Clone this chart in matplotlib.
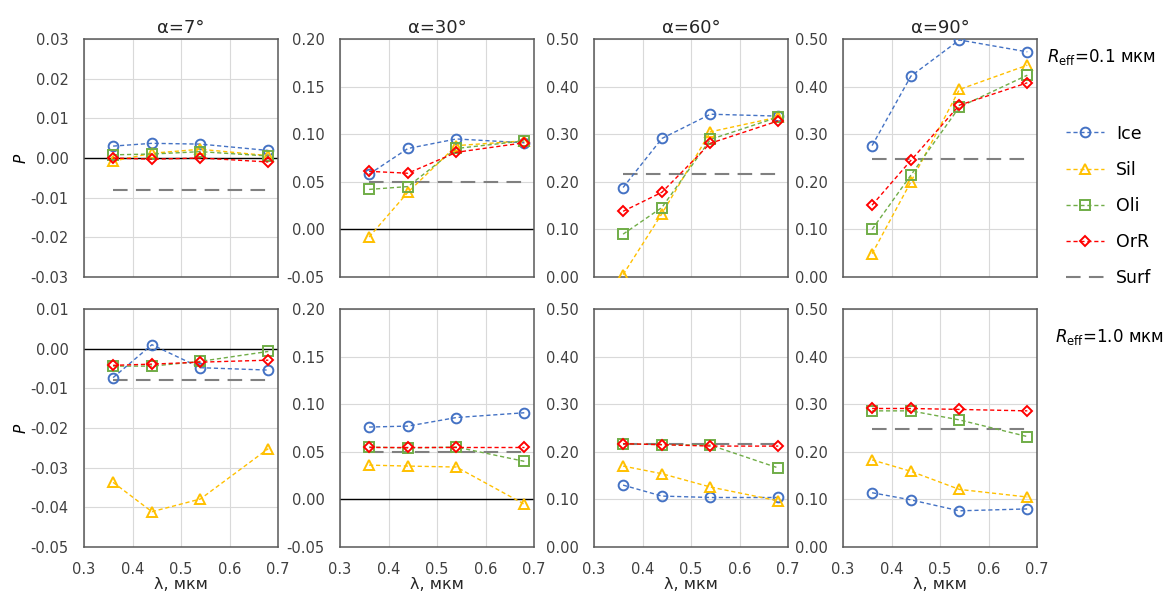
import numpy as np
import matplotlib
matplotlib.use("Agg")
import matplotlib.pyplot as plt

# wavelengths, um
lam = [0.36, 0.44, 0.54, 0.68]
angles = ["7", "30", "60", "90"]
series = ["Ice", "Sil", "Oli", "OrR"]

# R_eff = 0.1 um, one list per angle: Ice, Sil, Oli, OrR
r01_a7 = [[0.0030, 0.0037, 0.0035, 0.0019],
          [-0.0008, 0.0012, 0.0022, 0.0006],
          [0.0008, 0.0010, 0.0016, 0.0005],
          [0.0000, -0.0003, 0.0000, -0.0010]]
r01_a30 = [[0.058, 0.085, 0.095, 0.091],
           [-0.008, 0.039, 0.088, 0.093],
           [0.042, 0.045, 0.085, 0.093],
           [0.061, 0.059, 0.081, 0.091]]
r01_a60 = [[0.188, 0.291, 0.342, 0.338],
           [0.005, 0.133, 0.305, 0.336],
           [0.090, 0.146, 0.289, 0.336],
           [0.138, 0.178, 0.281, 0.328]]
r01_a90 = [[0.276, 0.422, 0.498, 0.473],
           [0.049, 0.200, 0.394, 0.445],
           [0.100, 0.214, 0.357, 0.424],
           [0.151, 0.245, 0.361, 0.408]]

# R_eff = 1.0 um
r10_a7 = [[-0.0073, 0.0010, -0.0048, -0.0054],
          [-0.0337, -0.0411, -0.0379, -0.0252],
          [-0.0044, -0.0044, -0.0032, -0.0007],
          [-0.0042, -0.0039, -0.0034, -0.0029]]
r10_a30 = [[0.076, 0.077, 0.086, 0.091],
           [0.036, 0.035, 0.034, -0.005],
           [0.055, 0.054, 0.055, 0.040],
           [0.055, 0.055, 0.055, 0.055]]
r10_a60 = [[0.130, 0.107, 0.104, 0.104],
           [0.170, 0.154, 0.126, 0.097],
           [0.217, 0.215, 0.214, 0.166],
           [0.217, 0.215, 0.212, 0.212]]
r10_a90 = [[0.114, 0.099, 0.076, 0.080],
           [0.183, 0.159, 0.121, 0.105],
           [0.286, 0.286, 0.267, 0.232],
           [0.291, 0.291, 0.289, 0.286]]

# surface polarisation per angle
surf_r01 = [-0.008, 0.050, 0.216, 0.248]
surf_r10 = [-0.008, 0.050, 0.216, 0.248]

top_data = [r01_a7, r01_a30, r01_a60, r01_a90]
bot_data = [r10_a7, r10_a30, r10_a60, r10_a90]

colors = ["#4472C4", "#FFC000", "#70AD47", "#FF0000"]
markers = ["o", "^", "s", "D"]
msizes = [7, 6.5, 7, 5]

top_lims = [(-0.03, 0.03, 0.01), (-0.05, 0.20, 0.05), (0, 0.5, 0.1), (0, 0.5, 0.1)]
bot_lims = [(-0.05, 0.01, 0.01), (-0.05, 0.20, 0.05), (0, 0.5, 0.1), (0, 0.5, 0.1)]

W, H = 1168, 597
fig = plt.figure(figsize=(W / 100, H / 100), dpi=100)

lefts = [84, 340, 594, 843]
aw, ah = 194, 238
rows = [(39, top_data, top_lims, surf_r01), (309, bot_data, bot_lims, surf_r10)]

axes_list = []
for r, (ytop, data, lims, surf) in enumerate(rows):
    for c in range(4):
        ax = fig.add_axes([lefts[c] / W, 1 - (ytop + ah) / H, aw / W, ah / H])
        lo, hi, step = lims[c]
        ax.set_xlim(0.3, 0.7)
        ax.set_ylim(lo, hi)
        ax.set_xticks([0.3, 0.4, 0.5, 0.6, 0.7])
        ax.set_yticks(np.arange(lo, hi + step / 2, step))
        ax.yaxis.set_major_formatter(matplotlib.ticker.FormatStrFormatter("%.2f"))
        ax.grid(True, color="#d9d9d9", lw=0.8)
        ax.set_axisbelow(True)
        ax.tick_params(length=0, labelsize=10.5, colors="#404040")
        ax.tick_params(axis="y", pad=11)
        ax.tick_params(axis="x", pad=11)
        for s in ax.spines.values():
            s.set_color("#595959")
            s.set_linewidth(1.1)
        if lo < 0 < hi:
            ax.axhline(0, color="black", lw=1, zorder=1)
        if r == 0:
            ax.set_xticklabels([])
            ax.set_title("\u03b1=" + angles[c] + "\u00b0", fontsize=13, color="#262626", pad=4)
        else:
            ax.set_xticklabels(["0.3", "0.4", "0.5", "0.6", "0.7"])
            ax.set_xlabel("\u03bb, мкм", fontsize=11.5, color="#262626", labelpad=0)
        if c == 0:
            ax.set_ylabel("P", fontstyle="italic", fontsize=11)
            ax.yaxis.set_label_coords(-0.285, 0.5)
        ax.plot([lam[0], lam[-1]], [surf[c], surf[c]], color="#808080", lw=1.5,
                ls=(0, (7, 4)), label="Surf", zorder=2)
        for k in range(4):
            ax.plot(lam, data[c][k], color=colors[k], lw=1, ls=(0, (3, 2)),
                    marker=markers[k], ms=msizes[k], mfc="none", mec=colors[k],
                    mew=1.4, label=series[k], zorder=3)
        axes_list.append(ax)

h, l = axes_list[0].get_legend_handles_labels()
order = [1, 2, 3, 4, 0]
fig.legend([h[i] for i in order], [l[i] for i in order], loc="center left",
           bbox_to_anchor=(1050 / W, 1 - 206 / H), frameon=False, fontsize=12.5,
           handlelength=2.2, handletextpad=0.7, labelspacing=1.05, numpoints=1)

fig.text(1047 / W, 1 - 57 / H, r"$R_\mathrm{eff}$=0.1 мкм", fontsize=12, va="center", ha="left")
fig.text(1055 / W, 1 - 337 / H, r"$R_\mathrm{eff}$=1.0 мкм", fontsize=12, va="center", ha="left")

fig.savefig("out.png", dpi=100)
